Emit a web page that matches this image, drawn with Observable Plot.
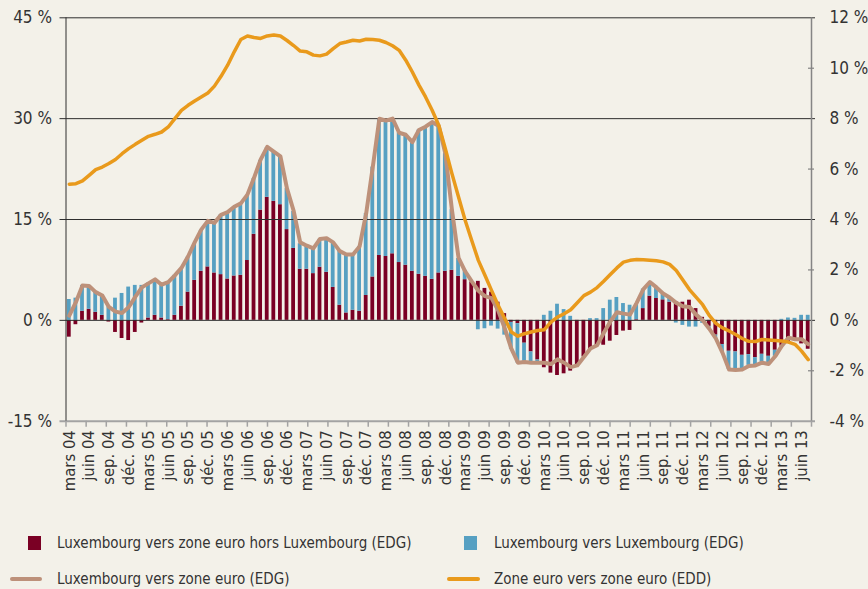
<!DOCTYPE html>
<html><head><meta charset="utf-8">
<script src="https://cdn.jsdelivr.net/npm/d3@7"></script>
<script src="https://cdn.jsdelivr.net/npm/@observablehq/plot@0.6"></script>
<style>
html,body{margin:0;padding:0;background:#f3f1e9;}
#wrap{position:relative;width:868px;height:589px;overflow:hidden;background:#f3f1e9;font-family:"DejaVu Sans Condensed","DejaVu Sans",sans-serif;color:#333;}
#chart{position:absolute;left:0;top:0;}
.leg{position:absolute;font-size:15px;line-height:16px;white-space:nowrap;color:#333;}
.sw{position:absolute;}
</style></head><body>
<div id="wrap">
  <div id="chart"></div>
  <div class="sw" style="left:28px;top:536px;width:13px;height:14px;background:#7a0024"></div>
  <div class="leg" style="left:57px;top:535px">Luxembourg vers zone euro hors Luxembourg (EDG)</div>
  <div class="sw" style="left:464px;top:536px;width:13px;height:14px;background:#56a0c2"></div>
  <div class="leg" style="left:494px;top:535px">Luxembourg vers Luxembourg (EDG)</div>
  <div class="sw" style="left:10px;top:577px;width:32px;height:4px;border-radius:2px;background:#bd917a"></div>
  <div class="leg" style="left:57px;top:571px">Luxembourg vers zone euro (EDG)</div>
  <div class="sw" style="left:447px;top:577px;width:33px;height:4px;border-radius:2px;background:#e99a1c"></div>
  <div class="leg" style="left:494px;top:571px">Zone euro vers zone euro (EDD)</div>
</div>
<script>
// Months: mars 2004 ... juillet 2013 (113 months), index 0..112
const tickLabels = [
  "mars 04","juin 04","sep. 04","déc. 04",
  "mars 05","juin 05","sep. 05","déc. 05",
  "mars 06","juin 06","sep. 06","déc. 06",
  "mars 07","juin 07","sep. 07","déc. 07",
  "mars 08","juin 08","sep. 08","déc. 08",
  "mars 09","juin 09","sep. 09","déc. 09",
  "mars 10","juin 10","sep. 10","déc. 10",
  "mars 11","juin 11","sep. 11","déc. 11",
  "mars 12","juin 12","sep. 12","déc. 12",
  "mars 13","juin 13"
];
const seriesNames = ["Luxembourg vers zone euro hors Luxembourg (EDG)", "Luxembourg vers Luxembourg (EDG)"];

// Luxembourg vers zone euro hors Luxembourg (EDG), %
const luxHors = [
  -2.5, -0.65, 1.35, 1.65, 1.2, 0.75, -0.25, -1.8, -2.7, -3.0,
  -1.8, -0.4, 0.35, 0.75, 0.35, 0.1, 0.75, 2.1, 4.2, 5.95, 7.3, 7.95,
  7.05, 6.8, 6.15, 6.6, 6.7, 8.9, 12.8, 16.4, 18.3, 17.7, 17.2, 13.5,
  10.7, 7.6, 7.6, 6.95, 7.9, 7.15, 4.9, 2.25, 1.1, 1.5, 1.35, 3.7,
  6.45, 9.65, 9.5, 9.9, 8.6, 8.2, 7.3, 6.85, 6.55, 6.1, 7.05, 7.3,
  7.45, 6.55, 6.05, 5.7, 5.8, 4.75, 4.2, 2.7, 1.0, -0.3, -0.5, -3.4,
  -4.7, -5.9, -7.05, -7.85, -8.2, -7.95, -7.55, -6.7, -5.45, -4.45, -3.85, -3.7,
  -3.1, -2.25, -1.6, -1.5, 0.1, 1.75, 3.6, 3.25, 3.05, 2.7, 2.75, 2.7,
  3.0, 1.75, 0.45, -0.9, -2.2, -3.6, -4.6, -4.7, -5.2, -5.1, -5.55, -5.05,
  -5.35, -4.45, -3.85, -3.2, -3.0, -3.5, -4.3
];
// Luxembourg vers Luxembourg (EDG), %
const luxLux = [
  3.1, 3.3, 3.85, 3.4, 3.0, 2.95, 2.0, 3.3, 4.0, 4.95,
  5.2, 5.2, 5.2, 5.3, 4.85, 5.6, 5.95, 5.6, 5.2, 5.45, 6.1, 6.75,
  7.35, 8.9, 9.95, 10.25, 10.65, 9.7, 8.3, 7.4, 7.4, 7.35, 7.2, 6.1,
  5.5, 3.8, 3.4, 3.7, 4.15, 5.0, 6.6, 8.05, 8.7, 8.3, 9.65, 12.2,
  16.35, 20.35, 20.2, 20.1, 19.3, 19.4, 19.2, 21.45, 22.25, 23.3, 21.85, 17.5,
  9.0, 2.65, 1.4, 0.1, -1.4, -1.25, -0.85, -1.3, -2.2, -4.0, -5.85, -2.7,
  -1.5, -0.3, 0.75, 1.35, 2.4, 1.6, 0.6, 0, 0, 0.25, 0.25, 1.75,
  3.0, 3.4, 2.5, 2.25, 2.3, 2.9, 1.9, 1.6, 0.9, 0.6, -0.4, -0.75,
  -1.0, -1.0, -0.45, -0.35, -0.5, -1.1, -2.7, -2.6, -2.1, -1.6, -1.25, -1.15,
  -1.2, -0.9, 0.15, 0.35, 0.3, 0.75, 0.75
];
// Luxembourg vers zone euro (EDG), % (left axis)
const luxTotal = [
  0.7, 2.7, 5.2, 5.1, 4.2, 3.7, 2.0, 1.3, 1.1, 1.95,
  3.5, 4.9, 5.5, 6.1, 5.3, 5.7, 6.7, 7.8, 9.5, 11.6, 13.5, 14.8,
  14.5, 15.7, 16.1, 16.9, 17.4, 18.7, 21.2, 23.9, 25.8, 25.1, 24.4, 19.6,
  16.3, 11.6, 11.1, 10.7, 12.1, 12.2, 11.6, 10.3, 9.8, 9.8, 11.0, 15.9,
  22.8, 30.0, 29.7, 30.0, 27.9, 27.6, 26.5, 28.3, 28.8, 29.5, 28.9, 24.8,
  16.4, 9.3, 7.3, 5.8, 4.4, 3.6, 3.3, 1.5, -1.2, -4.2, -6.3, -6.2,
  -6.3, -6.3, -6.3, -6.5, -5.8, -6.3, -6.95, -6.7, -5.45, -4.2, -3.7, -1.9,
  -0.2, 1.2, 1.0, 0.85, 2.6, 4.6, 5.7, 4.9, 4.0, 3.4, 2.6, 2.1,
  2.0, 0.85, 0.0, -1.25, -2.7, -4.8, -7.3, -7.4, -7.3, -6.8, -6.7, -6.3,
  -6.5, -5.35, -3.8, -2.6, -2.8, -2.8, -3.55
];
// Zone euro vers zone euro (EDD), % (right axis)
const zoneEuro = [
  5.40, 5.42, 5.53, 5.75, 5.98, 6.08, 6.22, 6.38, 6.61, 6.81,
  6.98, 7.14, 7.30, 7.38, 7.47, 7.67, 8.0, 8.33, 8.53, 8.70, 8.86, 9.02,
  9.29, 9.68, 10.12, 10.65, 11.14, 11.28, 11.22, 11.18, 11.28, 11.32, 11.28, 11.1,
  10.9, 10.68, 10.65, 10.52, 10.49, 10.56, 10.78, 10.98, 11.04, 11.11, 11.08, 11.15,
  11.14, 11.11, 11.02, 10.89, 10.71, 10.32, 9.85, 9.33, 8.86, 8.33, 7.74, 6.81,
  5.82, 4.89, 3.97, 3.17, 2.38, 1.79, 1.19, 0.6, 0.07, -0.46, -0.63, -0.53,
  -0.46, -0.40, -0.37, -0.07, 0.13, 0.26, 0.42, 0.7, 0.98, 1.12, 1.3, 1.55,
  1.82, 2.08, 2.31, 2.38, 2.41, 2.40, 2.38, 2.36, 2.32, 2.22, 1.98, 1.6,
  1.22, 0.92, 0.62, 0.2, -0.12, -0.3, -0.42, -0.56, -0.72, -0.83, -0.84, -0.76,
  -0.78, -0.8, -0.82, -0.86, -0.95, -1.22, -1.56
];
const leftTicks = [45, 30, 15, 0, -15];
const rightTicks = [12, 10, 8, 6, 4, 2, 0, -2, -4];

const nMonths = luxHors.length;
const ratio = 45 / 12; // left-axis units per right-axis unit

const bars = [
  ...luxHors.map((v, i) => ({i, s: seriesNames[0], v})),
  ...luxLux.map((v, i) => ({i, s: seriesNames[1], v}))
];

const RED = "#7a0024", BLUE = "#56a0c2", BROWN = "#bd917a", ORANGE = "#e99a1c";
const GRID = "#2e2e2e", GRAY = "#a3a3a3";
const FONT = "'DejaVu Sans Condensed','DejaVu Sans',sans-serif";

const tickEdges = d3.range(tickLabels.length).map(k => k * nMonths / (tickLabels.length - 1));
const labelPos = tickLabels.map((_, k) => 3 * k + 0.5);

const chart = Plot.plot({
  width: 868,
  height: 510,
  marginTop: 17.3,
  marginLeft: 65.5,
  marginRight: 57,
  marginBottom: 89.3,
  style: {background: "transparent", fontFamily: FONT, color: "#333"},
  x: {domain: [0, nMonths], axis: null},
  y: {domain: [-15, 45], axis: null},
  color: {domain: seriesNames, range: [RED, BLUE]},
  marks: [
    Plot.rectY(bars, {x: "i", interval: 1, y: "v", fill: "s", insetLeft: 1.4, insetRight: 1.4}),
    Plot.ruleY([45, 30, 15, 0], {stroke: GRID, strokeWidth: 1, insetLeft: -6, insetRight: -4}),
    Plot.ruleY([-15], {stroke: GRAY, strokeWidth: 2, insetLeft: -6, insetRight: -4}),
    Plot.ruleX([0], {y1: -15, y2: 45, stroke: GRID, strokeWidth: 1}),
    Plot.ruleX([nMonths], {y1: -15, y2: 45, stroke: "#858585", strokeWidth: 1.5}),
    Plot.ruleY(rightTicks.filter(d => d % 4 !== 0).map(d => d * ratio), {x1: nMonths, x2: nMonths, insetLeft: -3, insetRight: -3, stroke: "#858585", strokeWidth: 1.2}),
    Plot.axisX({ticks: tickEdges, tickSize: 6, tickFormat: () => "", label: null, stroke: GRAY, strokeWidth: 1.5}),
    Plot.axisX({ticks: labelPos, tickSize: 0, tickPadding: 9, tickRotate: -90, label: null,
      tickFormat: (d) => tickLabels[Math.round((d - 0.5) / 3)], fontSize: 16.5, fill: "#333"}),
    Plot.axisY({ticks: leftTicks, tickSize: 0, tickPadding: 14, label: null, tickFormat: d => `${d} %`, fontSize: 17, fill: "#333"}),
    Plot.axisY({anchor: "right", ticks: rightTicks.map(d => d * ratio), tickSize: 0, tickPadding: 18, label: null,
      tickFormat: d => `${Math.round(d / ratio)} %`, fontSize: 17, fill: "#333"}),
    Plot.line(luxTotal, {x: (d, i) => i + 0.5, y: d => d, stroke: BROWN, strokeWidth: 4, strokeLinejoin: "round"}),
    Plot.line(zoneEuro, {x: (d, i) => i + 0.5, y: d => d * ratio, stroke: ORANGE, strokeWidth: 3.5, strokeLinejoin: "round"})
  ]
});
document.getElementById("chart").appendChild(chart);
</script>
</body></html>
